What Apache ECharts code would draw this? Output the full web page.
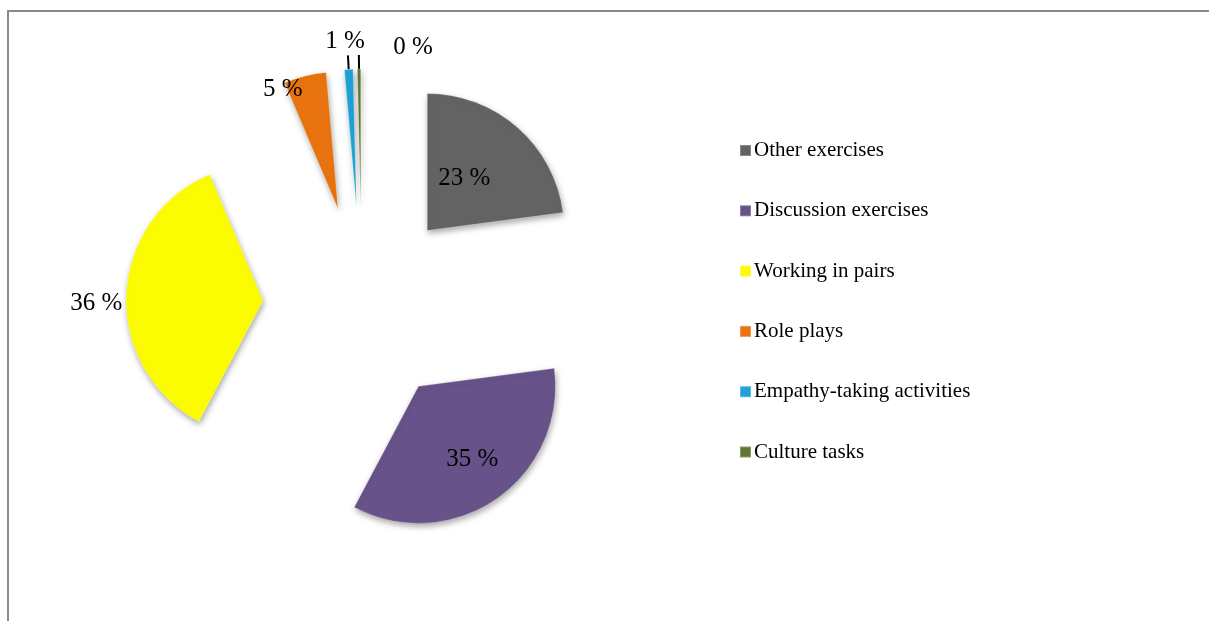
<!DOCTYPE html>
<html>
<head>
<meta charset="utf-8">
<script src="https://cdn.jsdelivr.net/npm/echarts@6/dist/echarts.min.js"></script>
<style>
html,body{margin:0;padding:0;background:#fff;}
#chart{width:1209px;height:621px;}
</style>
</head>
<body>
<div id="chart"></div>
<script>
// ---- data ----
var categories = ['Other exercises', 'Discussion exercises', 'Working in pairs', 'Role plays', 'Empathy-taking activities', 'Culture tasks'];
var values = [23, 35, 36, 5, 1, 0.4];
var colors = ['#636363', '#675289', '#fcfc00', '#e8730f', '#1ea3d8', '#5f7a30'];
var labelPositions = ['inside', 'inside', 'outside', 'outside', 'outside', 'outside'];

var FONT = '"Liberation Serif", "Times New Roman", serif';

var chart = echarts.init(document.getElementById('chart'));

var data = categories.map(function (name, i) {
  return {
    name: name,
    value: values[i],
    selected: true,
    itemStyle: { color: colors[i] },
    label: { position: labelPositions[i] },
    labelLine: { show: i >= 4, length: 14, length2: 0 }
  };
});

// small label nudges relative to the library's own label placement
var labelNudge = {
  0: [-10, 2],
  1: [13, 14],
  2: [15, 9],
  3: [6, 27],
  4: [22, -14],
  5: [79, -8]
};

chart.setOption({
  animation: false,
  color: colors,
  graphic: [{
    type: 'rect',
    silent: true,
    shape: { x: 8, y: 11, width: 1400, height: 800 },
    style: { fill: 'none', stroke: '#8a8a8a', lineWidth: 2 }
  }],
  legend: {
    orient: 'vertical',
    left: 734,
    top: 135,
    itemWidth: 11,
    itemHeight: 11,
    itemGap: 39.3,
    icon: 'rect',
    selectedMode: false,
    textStyle: { fontFamily: FONT, fontSize: 21, color: '#000', padding: [0, 0, 0, -2] },
    data: categories
  },
  series: [{
    type: 'pie',
    center: [362, 305],
    radius: [0, 137],
    startAngle: 90,
    clockwise: true,
    selectedMode: 'multiple',
    selectedOffset: 99,
    avoidLabelOverlap: false,
    emphasis: { disabled: true },
    itemStyle: {
      borderColor: 'rgba(255,255,255,0.25)',
      borderWidth: 1,
      shadowColor: 'rgba(0,0,0,0.35)',
      shadowBlur: 6,
      shadowOffsetX: 1,
      shadowOffsetY: 3
    },
    label: {
      fontFamily: FONT,
      fontSize: 25,
      color: '#000',
      formatter: function (p) { return Math.round(p.value) + ' %'; }
    },
    labelLine: {
      lineStyle: { color: '#000', width: 2 },
      smooth: false
    },
    labelLayout: function (p) {
      var n = labelNudge[p.dataIndex];
      if (!n) return {};
      return { dx: n[0], dy: n[1] };
    },
    data: data
  }]
});
</script>
</body>
</html>
